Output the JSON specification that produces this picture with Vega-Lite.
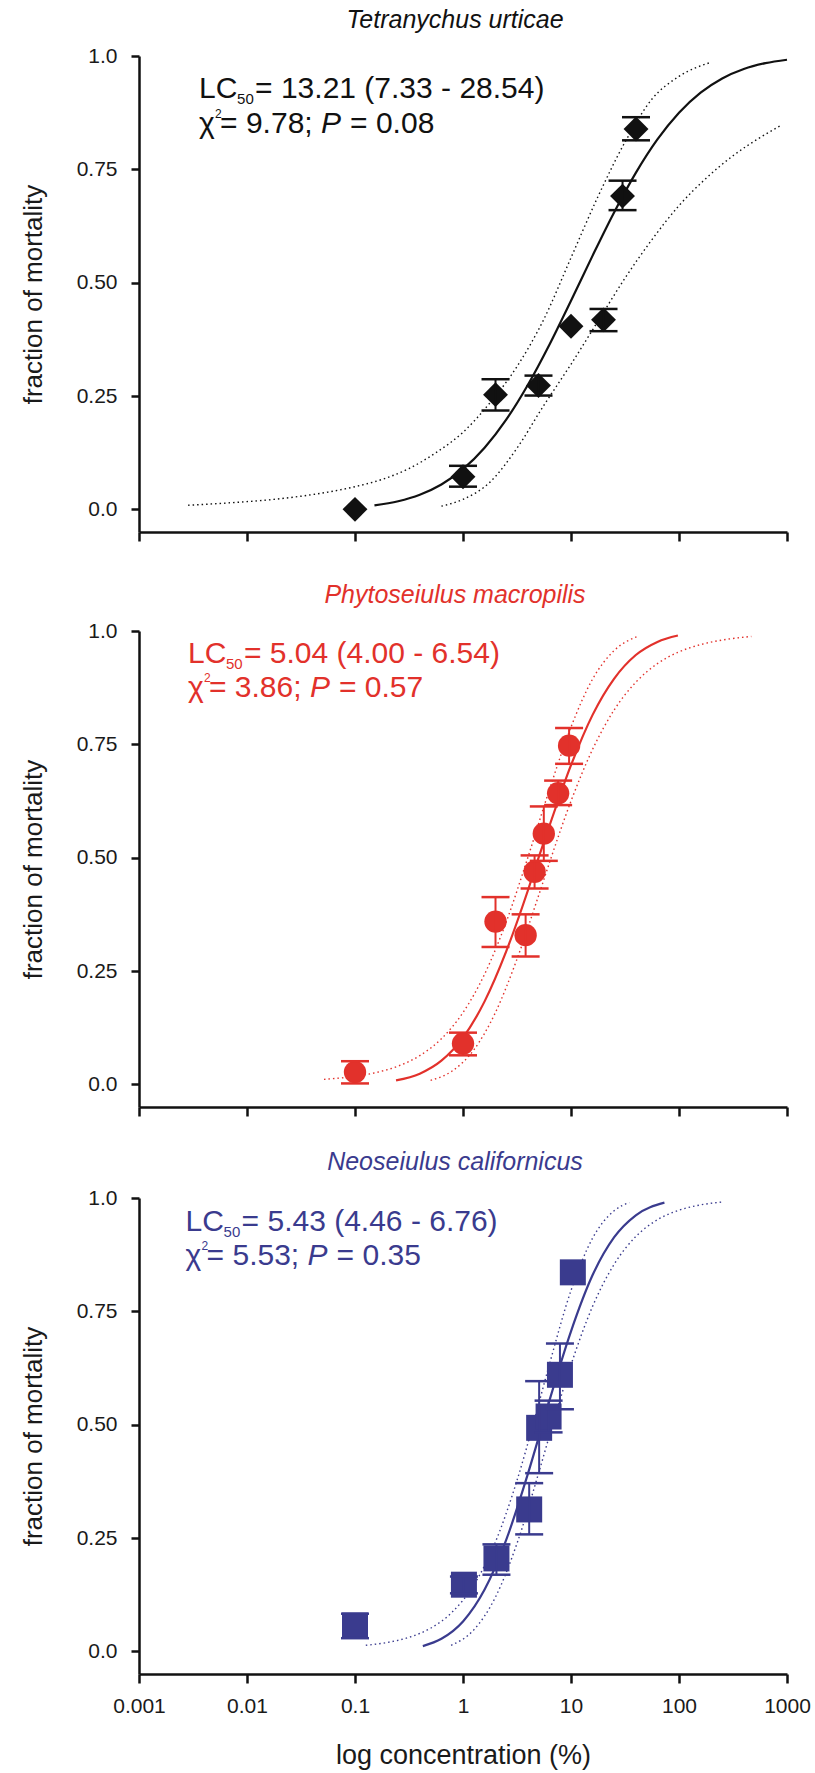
{
"$schema": "https://vega.github.io/schema/vega-lite/v6.json",
"padding": {"left": 20, "top": 8, "right": 5, "bottom": 2},
"background": "white",
"spacing": 40,
"datasets": {
"curves": [
{"sp":"T","band":"fit","conc":0.1514,"p":0.0088},{"sp":"T","band":"fit","conc":0.2512,"p":0.0179},{"sp":"T","band":"fit","conc":0.3981,"p":0.0322},{"sp":"T","band":"fit","conc":0.631,"p":0.0548},{"sp":"T","band":"fit","conc":1,"p":0.0885},{"sp":"T","band":"fit","conc":1.585,"p":0.1357},{"sp":"T","band":"fit","conc":2.512,"p":0.1977},{"sp":"T","band":"fit","conc":3.981,"p":0.2743},{"sp":"T","band":"fit","conc":6.31,"p":0.3632},{"sp":"T","band":"fit","conc":10,"p":0.4602},{"sp":"T","band":"fit","conc":15.85,"p":0.5596},{"sp":"T","band":"fit","conc":25.12,"p":0.6554},{"sp":"T","band":"fit","conc":39.81,"p":0.7422},{"sp":"T","band":"fit","conc":63.1,"p":0.8159},{"sp":"T","band":"fit","conc":100,"p":0.8749},{"sp":"T","band":"fit","conc":158.5,"p":0.9192},{"sp":"T","band":"fit","conc":251.2,"p":0.9505},{"sp":"T","band":"fit","conc":398.1,"p":0.9713},{"sp":"T","band":"fit","conc":631,"p":0.9842},{"sp":"T","band":"fit","conc":1000,"p":0.9918},
{"sp":"T","band":"upper","conc":0.00285,"p":0.009},{"sp":"T","band":"upper","conc":0.00562,"p":0.013},{"sp":"T","band":"upper","conc":0.01,"p":0.017},{"sp":"T","band":"upper","conc":0.01778,"p":0.022},{"sp":"T","band":"upper","conc":0.03162,"p":0.029},{"sp":"T","band":"upper","conc":0.05623,"p":0.038},{"sp":"T","band":"upper","conc":0.1,"p":0.05},{"sp":"T","band":"upper","conc":0.1778,"p":0.066},{"sp":"T","band":"upper","conc":0.3162,"p":0.09},{"sp":"T","band":"upper","conc":0.5623,"p":0.125},{"sp":"T","band":"upper","conc":1,"p":0.17},{"sp":"T","band":"upper","conc":1.778,"p":0.235},{"sp":"T","band":"upper","conc":3.162,"p":0.315},{"sp":"T","band":"upper","conc":5.623,"p":0.42},{"sp":"T","band":"upper","conc":10,"p":0.555},{"sp":"T","band":"upper","conc":17.78,"p":0.69},{"sp":"T","band":"upper","conc":31.62,"p":0.81},{"sp":"T","band":"upper","conc":56.23,"p":0.905},{"sp":"T","band":"upper","conc":100,"p":0.955},{"sp":"T","band":"upper","conc":196.8,"p":0.986},
{"sp":"T","band":"lower","conc":0.631,"p":0.007},{"sp":"T","band":"lower","conc":1,"p":0.022},{"sp":"T","band":"lower","conc":1.778,"p":0.06},{"sp":"T","band":"lower","conc":3.162,"p":0.135},{"sp":"T","band":"lower","conc":5.623,"p":0.23},{"sp":"T","band":"lower","conc":10,"p":0.32},{"sp":"T","band":"lower","conc":17.78,"p":0.415},{"sp":"T","band":"lower","conc":31.62,"p":0.51},{"sp":"T","band":"lower","conc":56.23,"p":0.595},{"sp":"T","band":"lower","conc":100,"p":0.67},{"sp":"T","band":"lower","conc":177.8,"p":0.73},{"sp":"T","band":"lower","conc":316.2,"p":0.78},{"sp":"T","band":"lower","conc":562.3,"p":0.82},{"sp":"T","band":"lower","conc":883,"p":0.847},
{"sp":"P","band":"fit","conc":0.2399,"p":0.0087},{"sp":"P","band":"fit","conc":0.3981,"p":0.0236},{"sp":"P","band":"fit","conc":0.631,"p":0.0522},{"sp":"P","band":"fit","conc":1,"p":0.1031},{"sp":"P","band":"fit","conc":1.585,"p":0.183},{"sp":"P","band":"fit","conc":2.512,"p":0.2932},{"sp":"P","band":"fit","conc":3.981,"p":0.427},{"sp":"P","band":"fit","conc":5.012,"p":0.5},{"sp":"P","band":"fit","conc":6.31,"p":0.57},{"sp":"P","band":"fit","conc":10,"p":0.704},{"sp":"P","band":"fit","conc":15.85,"p":0.815},{"sp":"P","band":"fit","conc":25.12,"p":0.895},{"sp":"P","band":"fit","conc":39.81,"p":0.947},{"sp":"P","band":"fit","conc":63.1,"p":0.976},{"sp":"P","band":"fit","conc":97.7,"p":0.99},
{"sp":"P","band":"upper","conc":0.0516,"p":0.011},{"sp":"P","band":"upper","conc":0.1,"p":0.0177},{"sp":"P","band":"upper","conc":0.1585,"p":0.0263},{"sp":"P","band":"upper","conc":0.2512,"p":0.0403},{"sp":"P","band":"upper","conc":0.3981,"p":0.0634},{"sp":"P","band":"upper","conc":0.631,"p":0.1006},{"sp":"P","band":"upper","conc":1,"p":0.1584},{"sp":"P","band":"upper","conc":1.585,"p":0.243},{"sp":"P","band":"upper","conc":2.512,"p":0.358},{"sp":"P","band":"upper","conc":3.981,"p":0.5},{"sp":"P","band":"upper","conc":6.31,"p":0.65},{"sp":"P","band":"upper","conc":10,"p":0.788},{"sp":"P","band":"upper","conc":15.85,"p":0.894},{"sp":"P","band":"upper","conc":25.12,"p":0.957},{"sp":"P","band":"upper","conc":41.3,"p":0.988},
{"sp":"P","band":"lower","conc":0.5012,"p":0.0089},{"sp":"P","band":"lower","conc":0.7943,"p":0.0294},{"sp":"P","band":"lower","conc":1.259,"p":0.0759},{"sp":"P","band":"lower","conc":1.995,"p":0.1582},{"sp":"P","band":"lower","conc":3.162,"p":0.2763},{"sp":"P","band":"lower","conc":5.012,"p":0.4164},{"sp":"P","band":"lower","conc":6.546,"p":0.5},{"sp":"P","band":"lower","conc":10,"p":0.6248},{"sp":"P","band":"lower","conc":15.85,"p":0.739},{"sp":"P","band":"lower","conc":25.12,"p":0.826},{"sp":"P","band":"lower","conc":39.81,"p":0.887},{"sp":"P","band":"lower","conc":63.1,"p":0.928},{"sp":"P","band":"lower","conc":100,"p":0.954},{"sp":"P","band":"lower","conc":158.5,"p":0.97},{"sp":"P","band":"lower","conc":251.2,"p":0.98},{"sp":"P","band":"lower","conc":467.7,"p":0.988},
{"sp":"N","band":"fit","conc":0.4246,"p":0.0116},{"sp":"N","band":"fit","conc":0.631,"p":0.0276},{"sp":"N","band":"fit","conc":1,"p":0.0659},{"sp":"N","band":"fit","conc":1.585,"p":0.1363},{"sp":"N","band":"fit","conc":2.512,"p":0.246},{"sp":"N","band":"fit","conc":3.981,"p":0.391},{"sp":"N","band":"fit","conc":5.433,"p":0.5},{"sp":"N","band":"fit","conc":6.31,"p":0.553},{"sp":"N","band":"fit","conc":10,"p":0.706},{"sp":"N","band":"fit","conc":15.85,"p":0.83},{"sp":"N","band":"fit","conc":25.12,"p":0.9136},{"sp":"N","band":"fit","conc":39.81,"p":0.9619},{"sp":"N","band":"fit","conc":73.3,"p":0.9897},
{"sp":"N","band":"upper","conc":0.1259,"p":0.0133},{"sp":"N","band":"upper","conc":0.1995,"p":0.0196},{"sp":"N","band":"upper","conc":0.3162,"p":0.0309},{"sp":"N","band":"upper","conc":0.5012,"p":0.0509},{"sp":"N","band":"upper","conc":0.7943,"p":0.0865},{"sp":"N","band":"upper","conc":1.259,"p":0.1464},{"sp":"N","band":"upper","conc":1.995,"p":0.241},{"sp":"N","band":"upper","conc":3.162,"p":0.377},{"sp":"N","band":"upper","conc":4.457,"p":0.5},{"sp":"N","band":"upper","conc":6.31,"p":0.633},{"sp":"N","band":"upper","conc":10,"p":0.796},{"sp":"N","band":"upper","conc":15.85,"p":0.9115},{"sp":"N","band":"upper","conc":25.12,"p":0.972},{"sp":"N","band":"upper","conc":34.67,"p":0.99},
{"sp":"N","band":"lower","conc":0.7762,"p":0.0132},{"sp":"N","band":"lower","conc":1.259,"p":0.0473},{"sp":"N","band":"lower","conc":1.995,"p":0.1194},{"sp":"N","band":"lower","conc":3.162,"p":0.238},{"sp":"N","band":"lower","conc":5.012,"p":0.393},{"sp":"N","band":"lower","conc":6.761,"p":0.5},{"sp":"N","band":"lower","conc":10,"p":0.632},{"sp":"N","band":"lower","conc":15.85,"p":0.761},{"sp":"N","band":"lower","conc":25.12,"p":0.854},{"sp":"N","band":"lower","conc":39.81,"p":0.915},{"sp":"N","band":"lower","conc":63.1,"p":0.952},{"sp":"N","band":"lower","conc":100,"p":0.973},{"sp":"N","band":"lower","conc":158.5,"p":0.9848},{"sp":"N","band":"lower","conc":248.9,"p":0.991}
],
"pts": [
{"sp":"T","conc":0.1,"p":0.0,"lo":null,"hi":null},{"sp":"T","conc":1,"p":0.072,"lo":0.05,"hi":0.096},{"sp":"T","conc":2,"p":0.253,"lo":0.218,"hi":0.287},{"sp":"T","conc":5,"p":0.273,"lo":0.251,"hi":0.295},{"sp":"T","conc":10,"p":0.404,"lo":null,"hi":null},{"sp":"T","conc":20,"p":0.418,"lo":0.393,"hi":0.442},{"sp":"T","conc":30,"p":0.691,"lo":0.66,"hi":0.725},{"sp":"T","conc":40,"p":0.839,"lo":0.814,"hi":0.865},
{"sp":"P","conc":0.1,"p":0.027,"lo":0.002,"hi":0.051},{"sp":"P","conc":1,"p":0.09,"lo":0.064,"hi":0.114},{"sp":"P","conc":2,"p":0.359,"lo":0.303,"hi":0.413},{"sp":"P","conc":3.8,"p":0.329,"lo":0.282,"hi":0.375},{"sp":"P","conc":4.6,"p":0.469,"lo":0.432,"hi":0.505},{"sp":"P","conc":5.6,"p":0.553,"lo":0.493,"hi":0.613},{"sp":"P","conc":7.6,"p":0.642,"lo":0.616,"hi":0.67},{"sp":"P","conc":9.6,"p":0.747,"lo":0.707,"hi":0.786},
{"sp":"N","conc":0.1,"p":0.057,"lo":0.029,"hi":0.083},{"sp":"N","conc":1.02,"p":0.147,"lo":0.128,"hi":0.165},{"sp":"N","conc":2.04,"p":0.205,"lo":0.169,"hi":0.236},{"sp":"N","conc":4.1,"p":0.313,"lo":0.258,"hi":0.371},{"sp":"N","conc":5.07,"p":0.493,"lo":0.393,"hi":0.596},{"sp":"N","conc":6.2,"p":0.518,"lo":0.483,"hi":0.553},{"sp":"N","conc":7.9,"p":0.61,"lo":0.534,"hi":0.679},{"sp":"N","conc":10.4,"p":0.836,"lo":null,"hi":null}
],
"txt": [
{"sp":"T","conc":0.0036,"y1":0.907,"y2":0.83,"eq1":"= 13.21 (7.33 - 28.54)","eq2":"= 9.78; ","eq3":"= 0.08"},
{"sp":"P","conc":0.00284,"y1":0.929,"y2":0.855,"eq1":"= 5.04 (4.00 - 6.54)","eq2":"= 3.86; ","eq3":"= 0.57"},
{"sp":"N","conc":0.0027,"y1":0.927,"y2":0.853,"eq1":"= 5.43 (4.46 - 6.76)","eq2":"= 5.53; ","eq3":"= 0.35"}
]
},
"vconcat": [
{
"width": 648, "height": 476,
"title": {"text": "Tetranychus urticae", "color": "#111111"},
"layer": [
{"data": {"name": "curves"}, "transform": [{"filter": "datum.sp == 'T' && datum.band != 'fit'"}],
 "mark": {"type": "line", "color": "#111111", "strokeDash": [1.5, 3], "strokeWidth": 1.4, "interpolate": "monotone"},
 "encoding": {
  "x": {"field": "conc", "type": "quantitative", "title": null, "scale": {"type": "log", "domain": [0.001, 1000]}, "axis": {"values": [0.001, 0.01, 0.1, 1, 10, 100, 1000], "labels": false, "title": null, "tickSize": 9}},
  "y": {"field": "p", "type": "quantitative", "title": "fraction of mortality", "scale": {"domain": [-0.05, 1], "nice": false, "zero": false}, "axis": {"title": "fraction of mortality", "values": [0, 0.25, 0.5, 0.75, 1], "labelExpr": "datum.value == 0 ? '0.0' : datum.value == 1 ? '1.0' : format(datum.value, '.2f')"}},
  "detail": {"field": "band"}}},
{"data": {"name": "curves"}, "transform": [{"filter": "datum.sp == 'T' && datum.band == 'fit'"}],
 "mark": {"type": "line", "color": "#111111", "strokeWidth": 2.2, "interpolate": "monotone"},
 "encoding": {"x": {"field": "conc", "type": "quantitative", "title": null}, "y": {"field": "p", "type": "quantitative", "title": "fraction of mortality"}}},
{"data": {"name": "pts"}, "transform": [{"filter": "datum.sp == 'T'"}],
 "mark": {"type": "point", "shape": "diamond", "filled": true, "size": 620, "color": "#111111", "opacity": 1},
 "encoding": {"x": {"field": "conc", "type": "quantitative", "title": null}, "y": {"field": "p", "type": "quantitative", "title": "fraction of mortality"}}},
{"data": {"name": "pts"}, "transform": [{"filter": "datum.sp == 'T' && datum.lo != null"}],
 "mark": {"type": "rule", "color": "#111111", "strokeWidth": 2},
 "encoding": {"x": {"field": "conc", "type": "quantitative", "title": null}, "y": {"field": "lo", "type": "quantitative", "title": "fraction of mortality"}, "y2": {"field": "hi"}}},
{"data": {"name": "pts"}, "transform": [{"filter": "datum.sp == 'T' && datum.lo != null"}],
 "mark": {"type": "tick", "orient": "horizontal", "color": "#111111", "size": 28, "thickness": 2.5, "opacity": 1},
 "encoding": {"x": {"field": "conc", "type": "quantitative", "title": null}, "y": {"field": "lo", "type": "quantitative", "title": "fraction of mortality"}}},
{"data": {"name": "pts"}, "transform": [{"filter": "datum.sp == 'T' && datum.lo != null"}],
 "mark": {"type": "tick", "orient": "horizontal", "color": "#111111", "size": 28, "thickness": 2.5, "opacity": 1},
 "encoding": {"x": {"field": "conc", "type": "quantitative", "title": null}, "y": {"field": "hi", "type": "quantitative", "title": "fraction of mortality"}}},
{"data": {"name": "txt"}, "transform": [{"filter": "datum.sp == 'T'"}],
 "mark": {"type": "text", "align": "left", "baseline": "alphabetic", "fontSize": 30, "color": "#111111"},
 "encoding": {"x": {"field": "conc", "type": "quantitative", "title": null}, "y": {"field": "y1", "type": "quantitative", "title": "fraction of mortality"}, "text": {"value": "LC"}}},
{"data": {"name": "txt"}, "transform": [{"filter": "datum.sp == 'T'"}],
 "mark": {"type": "text", "align": "left", "baseline": "alphabetic", "fontSize": 15, "dx": 38, "dy": 6, "color": "#111111"},
 "encoding": {"x": {"field": "conc", "type": "quantitative", "title": null}, "y": {"field": "y1", "type": "quantitative", "title": "fraction of mortality"}, "text": {"value": "50"}}},
{"data": {"name": "txt"}, "transform": [{"filter": "datum.sp == 'T'"}],
 "mark": {"type": "text", "align": "left", "baseline": "alphabetic", "fontSize": 30, "dx": 56, "color": "#111111"},
 "encoding": {"x": {"field": "conc", "type": "quantitative", "title": null}, "y": {"field": "y1", "type": "quantitative", "title": "fraction of mortality"}, "text": {"field": "eq1"}}},
{"data": {"name": "txt"}, "transform": [{"filter": "datum.sp == 'T'"}],
 "mark": {"type": "text", "align": "left", "baseline": "alphabetic", "fontSize": 30, "color": "#111111"},
 "encoding": {"x": {"field": "conc", "type": "quantitative", "title": null}, "y": {"field": "y2", "type": "quantitative", "title": "fraction of mortality"}, "text": {"value": "χ"}}},
{"data": {"name": "txt"}, "transform": [{"filter": "datum.sp == 'T'"}],
 "mark": {"type": "text", "align": "left", "baseline": "alphabetic", "fontSize": 12, "dx": 16, "dy": -15, "color": "#111111"},
 "encoding": {"x": {"field": "conc", "type": "quantitative", "title": null}, "y": {"field": "y2", "type": "quantitative", "title": "fraction of mortality"}, "text": {"value": "2"}}},
{"data": {"name": "txt"}, "transform": [{"filter": "datum.sp == 'T'"}],
 "mark": {"type": "text", "align": "left", "baseline": "alphabetic", "fontSize": 30, "dx": 21, "color": "#111111"},
 "encoding": {"x": {"field": "conc", "type": "quantitative", "title": null}, "y": {"field": "y2", "type": "quantitative", "title": "fraction of mortality"}, "text": {"field": "eq2"}}},
{"data": {"name": "txt"}, "transform": [{"filter": "datum.sp == 'T'"}],
 "mark": {"type": "text", "align": "left", "baseline": "alphabetic", "fontSize": 30, "fontStyle": "italic", "dx": 122, "color": "#111111"},
 "encoding": {"x": {"field": "conc", "type": "quantitative", "title": null}, "y": {"field": "y2", "type": "quantitative", "title": "fraction of mortality"}, "text": {"value": "P"}}},
{"data": {"name": "txt"}, "transform": [{"filter": "datum.sp == 'T'"}],
 "mark": {"type": "text", "align": "left", "baseline": "alphabetic", "fontSize": 30, "dx": 151, "color": "#111111"},
 "encoding": {"x": {"field": "conc", "type": "quantitative", "title": null}, "y": {"field": "y2", "type": "quantitative", "title": "fraction of mortality"}, "text": {"field": "eq3"}}}
]
},
{
"spacing": 32,
"vconcat": [
{
"width": 648, "height": 476,
"title": {"text": "Phytoseiulus macropilis", "color": "#e2312b"},
"layer": [
{"data": {"name": "curves"}, "transform": [{"filter": "datum.sp == 'P' && datum.band != 'fit'"}],
 "mark": {"type": "line", "color": "#e2312b", "strokeDash": [1.5, 3], "strokeWidth": 1.4, "interpolate": "monotone"},
 "encoding": {
  "x": {"field": "conc", "type": "quantitative", "title": null, "scale": {"type": "log", "domain": [0.001, 1000]}, "axis": {"values": [0.001, 0.01, 0.1, 1, 10, 100, 1000], "labels": false, "title": null, "tickSize": 9}},
  "y": {"field": "p", "type": "quantitative", "title": "fraction of mortality", "scale": {"domain": [-0.05, 1], "nice": false, "zero": false}, "axis": {"title": "fraction of mortality", "values": [0, 0.25, 0.5, 0.75, 1], "labelExpr": "datum.value == 0 ? '0.0' : datum.value == 1 ? '1.0' : format(datum.value, '.2f')"}},
  "detail": {"field": "band"}}},
{"data": {"name": "curves"}, "transform": [{"filter": "datum.sp == 'P' && datum.band == 'fit'"}],
 "mark": {"type": "line", "color": "#e2312b", "strokeWidth": 2.2, "interpolate": "monotone"},
 "encoding": {"x": {"field": "conc", "type": "quantitative", "title": null}, "y": {"field": "p", "type": "quantitative", "title": "fraction of mortality"}}},
{"data": {"name": "pts"}, "transform": [{"filter": "datum.sp == 'P'"}],
 "mark": {"type": "circle", "size": 500, "color": "#e2312b", "opacity": 1},
 "encoding": {"x": {"field": "conc", "type": "quantitative", "title": null}, "y": {"field": "p", "type": "quantitative", "title": "fraction of mortality"}}},
{"data": {"name": "pts"}, "transform": [{"filter": "datum.sp == 'P' && datum.lo != null"}],
 "mark": {"type": "rule", "color": "#e2312b", "strokeWidth": 2},
 "encoding": {"x": {"field": "conc", "type": "quantitative", "title": null}, "y": {"field": "lo", "type": "quantitative", "title": "fraction of mortality"}, "y2": {"field": "hi"}}},
{"data": {"name": "pts"}, "transform": [{"filter": "datum.sp == 'P' && datum.lo != null"}],
 "mark": {"type": "tick", "orient": "horizontal", "color": "#e2312b", "size": 28, "thickness": 2.5, "opacity": 1},
 "encoding": {"x": {"field": "conc", "type": "quantitative", "title": null}, "y": {"field": "lo", "type": "quantitative", "title": "fraction of mortality"}}},
{"data": {"name": "pts"}, "transform": [{"filter": "datum.sp == 'P' && datum.lo != null"}],
 "mark": {"type": "tick", "orient": "horizontal", "color": "#e2312b", "size": 28, "thickness": 2.5, "opacity": 1},
 "encoding": {"x": {"field": "conc", "type": "quantitative", "title": null}, "y": {"field": "hi", "type": "quantitative", "title": "fraction of mortality"}}},
{"data": {"name": "txt"}, "transform": [{"filter": "datum.sp == 'P'"}],
 "mark": {"type": "text", "align": "left", "baseline": "alphabetic", "fontSize": 30, "color": "#e2312b"},
 "encoding": {"x": {"field": "conc", "type": "quantitative", "title": null}, "y": {"field": "y1", "type": "quantitative", "title": "fraction of mortality"}, "text": {"value": "LC"}}},
{"data": {"name": "txt"}, "transform": [{"filter": "datum.sp == 'P'"}],
 "mark": {"type": "text", "align": "left", "baseline": "alphabetic", "fontSize": 15, "dx": 38, "dy": 6, "color": "#e2312b"},
 "encoding": {"x": {"field": "conc", "type": "quantitative", "title": null}, "y": {"field": "y1", "type": "quantitative", "title": "fraction of mortality"}, "text": {"value": "50"}}},
{"data": {"name": "txt"}, "transform": [{"filter": "datum.sp == 'P'"}],
 "mark": {"type": "text", "align": "left", "baseline": "alphabetic", "fontSize": 30, "dx": 56, "color": "#e2312b"},
 "encoding": {"x": {"field": "conc", "type": "quantitative", "title": null}, "y": {"field": "y1", "type": "quantitative", "title": "fraction of mortality"}, "text": {"field": "eq1"}}},
{"data": {"name": "txt"}, "transform": [{"filter": "datum.sp == 'P'"}],
 "mark": {"type": "text", "align": "left", "baseline": "alphabetic", "fontSize": 30, "color": "#e2312b"},
 "encoding": {"x": {"field": "conc", "type": "quantitative", "title": null}, "y": {"field": "y2", "type": "quantitative", "title": "fraction of mortality"}, "text": {"value": "χ"}}},
{"data": {"name": "txt"}, "transform": [{"filter": "datum.sp == 'P'"}],
 "mark": {"type": "text", "align": "left", "baseline": "alphabetic", "fontSize": 12, "dx": 16, "dy": -15, "color": "#e2312b"},
 "encoding": {"x": {"field": "conc", "type": "quantitative", "title": null}, "y": {"field": "y2", "type": "quantitative", "title": "fraction of mortality"}, "text": {"value": "2"}}},
{"data": {"name": "txt"}, "transform": [{"filter": "datum.sp == 'P'"}],
 "mark": {"type": "text", "align": "left", "baseline": "alphabetic", "fontSize": 30, "dx": 21, "color": "#e2312b"},
 "encoding": {"x": {"field": "conc", "type": "quantitative", "title": null}, "y": {"field": "y2", "type": "quantitative", "title": "fraction of mortality"}, "text": {"field": "eq2"}}},
{"data": {"name": "txt"}, "transform": [{"filter": "datum.sp == 'P'"}],
 "mark": {"type": "text", "align": "left", "baseline": "alphabetic", "fontSize": 30, "fontStyle": "italic", "dx": 122, "color": "#e2312b"},
 "encoding": {"x": {"field": "conc", "type": "quantitative", "title": null}, "y": {"field": "y2", "type": "quantitative", "title": "fraction of mortality"}, "text": {"value": "P"}}},
{"data": {"name": "txt"}, "transform": [{"filter": "datum.sp == 'P'"}],
 "mark": {"type": "text", "align": "left", "baseline": "alphabetic", "fontSize": 30, "dx": 151, "color": "#e2312b"},
 "encoding": {"x": {"field": "conc", "type": "quantitative", "title": null}, "y": {"field": "y2", "type": "quantitative", "title": "fraction of mortality"}, "text": {"field": "eq3"}}}
]
},
{
"width": 648, "height": 476,
"title": {"text": "Neoseiulus californicus", "color": "#3a3b8e"},
"layer": [
{"data": {"name": "curves"}, "transform": [{"filter": "datum.sp == 'N' && datum.band != 'fit'"}],
 "mark": {"type": "line", "color": "#3a3b8e", "strokeDash": [1.5, 3], "strokeWidth": 1.4, "interpolate": "monotone"},
 "encoding": {
  "x": {"field": "conc", "type": "quantitative", "title": "log concentration (%)", "scale": {"type": "log", "domain": [0.001, 1000]}, "axis": {"values": [0.001, 0.01, 0.1, 1, 10, 100, 1000], "labelExpr": "format(datum.value, '~g')", "title": "log concentration (%)", "tickSize": 9, "labelPadding": 12, "titlePadding": 26, "titleFontSize": 27, "labelFlush": false, "labelOverlap": false}},
  "y": {"field": "p", "type": "quantitative", "title": "fraction of mortality", "scale": {"domain": [-0.05, 1], "nice": false, "zero": false}, "axis": {"title": "fraction of mortality", "values": [0, 0.25, 0.5, 0.75, 1], "labelExpr": "datum.value == 0 ? '0.0' : datum.value == 1 ? '1.0' : format(datum.value, '.2f')"}},
  "detail": {"field": "band"}}},
{"data": {"name": "curves"}, "transform": [{"filter": "datum.sp == 'N' && datum.band == 'fit'"}],
 "mark": {"type": "line", "color": "#3a3b8e", "strokeWidth": 2.2, "interpolate": "monotone"},
 "encoding": {"x": {"field": "conc", "type": "quantitative", "title": "log concentration (%)"}, "y": {"field": "p", "type": "quantitative", "title": "fraction of mortality"}}},
{"data": {"name": "pts"}, "transform": [{"filter": "datum.sp == 'N'"}],
 "mark": {"type": "square", "size": 676, "color": "#3a3b8e", "opacity": 1},
 "encoding": {"x": {"field": "conc", "type": "quantitative", "title": "log concentration (%)"}, "y": {"field": "p", "type": "quantitative", "title": "fraction of mortality"}}},
{"data": {"name": "pts"}, "transform": [{"filter": "datum.sp == 'N' && datum.lo != null"}],
 "mark": {"type": "rule", "color": "#3a3b8e", "strokeWidth": 2},
 "encoding": {"x": {"field": "conc", "type": "quantitative", "title": "log concentration (%)"}, "y": {"field": "lo", "type": "quantitative", "title": "fraction of mortality"}, "y2": {"field": "hi"}}},
{"data": {"name": "pts"}, "transform": [{"filter": "datum.sp == 'N' && datum.lo != null"}],
 "mark": {"type": "tick", "orient": "horizontal", "color": "#3a3b8e", "size": 28, "thickness": 2.5, "opacity": 1},
 "encoding": {"x": {"field": "conc", "type": "quantitative", "title": "log concentration (%)"}, "y": {"field": "lo", "type": "quantitative", "title": "fraction of mortality"}}},
{"data": {"name": "pts"}, "transform": [{"filter": "datum.sp == 'N' && datum.lo != null"}],
 "mark": {"type": "tick", "orient": "horizontal", "color": "#3a3b8e", "size": 28, "thickness": 2.5, "opacity": 1},
 "encoding": {"x": {"field": "conc", "type": "quantitative", "title": "log concentration (%)"}, "y": {"field": "hi", "type": "quantitative", "title": "fraction of mortality"}}},
{"data": {"name": "txt"}, "transform": [{"filter": "datum.sp == 'N'"}],
 "mark": {"type": "text", "align": "left", "baseline": "alphabetic", "fontSize": 30, "color": "#3a3b8e"},
 "encoding": {"x": {"field": "conc", "type": "quantitative", "title": "log concentration (%)"}, "y": {"field": "y1", "type": "quantitative", "title": "fraction of mortality"}, "text": {"value": "LC"}}},
{"data": {"name": "txt"}, "transform": [{"filter": "datum.sp == 'N'"}],
 "mark": {"type": "text", "align": "left", "baseline": "alphabetic", "fontSize": 15, "dx": 38, "dy": 6, "color": "#3a3b8e"},
 "encoding": {"x": {"field": "conc", "type": "quantitative", "title": "log concentration (%)"}, "y": {"field": "y1", "type": "quantitative", "title": "fraction of mortality"}, "text": {"value": "50"}}},
{"data": {"name": "txt"}, "transform": [{"filter": "datum.sp == 'N'"}],
 "mark": {"type": "text", "align": "left", "baseline": "alphabetic", "fontSize": 30, "dx": 56, "color": "#3a3b8e"},
 "encoding": {"x": {"field": "conc", "type": "quantitative", "title": "log concentration (%)"}, "y": {"field": "y1", "type": "quantitative", "title": "fraction of mortality"}, "text": {"field": "eq1"}}},
{"data": {"name": "txt"}, "transform": [{"filter": "datum.sp == 'N'"}],
 "mark": {"type": "text", "align": "left", "baseline": "alphabetic", "fontSize": 30, "color": "#3a3b8e"},
 "encoding": {"x": {"field": "conc", "type": "quantitative", "title": "log concentration (%)"}, "y": {"field": "y2", "type": "quantitative", "title": "fraction of mortality"}, "text": {"value": "χ"}}},
{"data": {"name": "txt"}, "transform": [{"filter": "datum.sp == 'N'"}],
 "mark": {"type": "text", "align": "left", "baseline": "alphabetic", "fontSize": 12, "dx": 16, "dy": -15, "color": "#3a3b8e"},
 "encoding": {"x": {"field": "conc", "type": "quantitative", "title": "log concentration (%)"}, "y": {"field": "y2", "type": "quantitative", "title": "fraction of mortality"}, "text": {"value": "2"}}},
{"data": {"name": "txt"}, "transform": [{"filter": "datum.sp == 'N'"}],
 "mark": {"type": "text", "align": "left", "baseline": "alphabetic", "fontSize": 30, "dx": 21, "color": "#3a3b8e"},
 "encoding": {"x": {"field": "conc", "type": "quantitative", "title": "log concentration (%)"}, "y": {"field": "y2", "type": "quantitative", "title": "fraction of mortality"}, "text": {"field": "eq2"}}},
{"data": {"name": "txt"}, "transform": [{"filter": "datum.sp == 'N'"}],
 "mark": {"type": "text", "align": "left", "baseline": "alphabetic", "fontSize": 30, "fontStyle": "italic", "dx": 122, "color": "#3a3b8e"},
 "encoding": {"x": {"field": "conc", "type": "quantitative", "title": "log concentration (%)"}, "y": {"field": "y2", "type": "quantitative", "title": "fraction of mortality"}, "text": {"value": "P"}}},
{"data": {"name": "txt"}, "transform": [{"filter": "datum.sp == 'N'"}],
 "mark": {"type": "text", "align": "left", "baseline": "alphabetic", "fontSize": 30, "dx": 151, "color": "#3a3b8e"},
 "encoding": {"x": {"field": "conc", "type": "quantitative", "title": "log concentration (%)"}, "y": {"field": "y2", "type": "quantitative", "title": "fraction of mortality"}, "text": {"field": "eq3"}}}
]
}
]
}
],
"config": {
 "font": "Liberation Sans",
 "view": {"stroke": null},
 "title": {"font": "Liberation Sans", "fontSize": 25, "fontStyle": "italic", "fontWeight": "normal", "anchor": "middle", "offset": 12, "dx": -8},
 "text": {"font": "Liberation Sans"},
 "axis": {"grid": false, "domainColor": "#111111", "domainWidth": 2.5, "tickColor": "#111111", "tickWidth": 2.5, "labelFont": "Liberation Sans", "labelFontSize": 21, "labelColor": "#1a1a1a", "titleFont": "Liberation Sans", "titleFontSize": 26, "titleFontWeight": "normal", "titleColor": "#1a1a1a"},
 "axisY": {"tickSize": 8, "labelPadding": 14, "titlePadding": 30},
 "axisX": {"tickSize": 9}
}
}
